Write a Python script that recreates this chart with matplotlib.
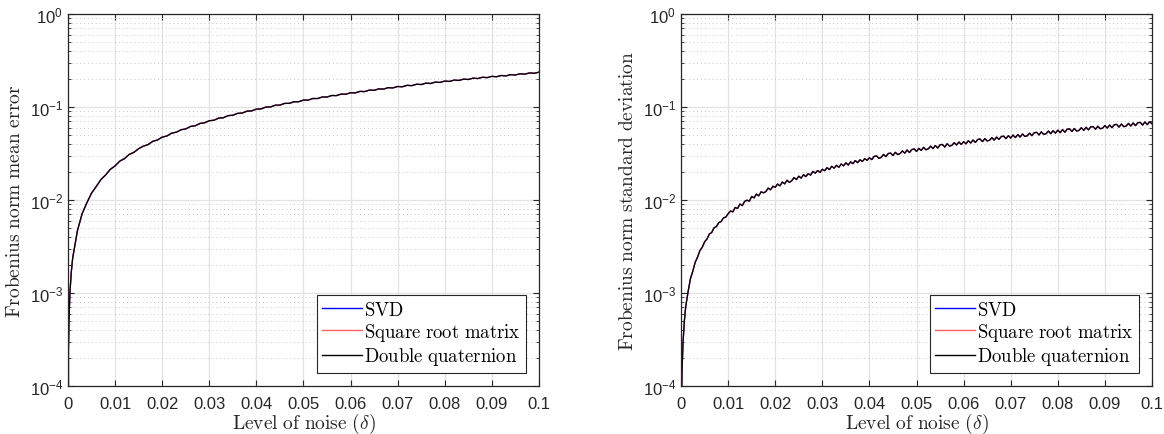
import numpy as np
import matplotlib
matplotlib.use('Agg')
import matplotlib.pyplot as plt
from matplotlib.ticker import FixedLocator, FuncFormatter, LogLocator, NullFormatter

# noise levels (a few extra samples close to zero)
delta_small = [0.0, 0.0001, 0.0002, 0.0004, 0.0007]
delta_mean = np.concatenate([delta_small, np.round(np.arange(1, 101) * 0.001, 4)])
delta_std = np.concatenate([delta_small, np.round(np.arange(2, 201) * 0.0005, 5)])

# Frobenius norm mean error (x1e-3)
mean_err = np.array([
    0.0, 0.24, 0.48, 0.98, 1.67,
    2.38, 4.66, 7.12, 9.31, 11.84, 13.97, 16.60, 18.62, 21.40, 23.28,
    26.20, 27.85, 30.90, 32.55, 35.60, 37.95, 39.40, 42.75, 44.20, 47.40,
    48.80, 52.30, 53.60, 56.90, 58.10, 61.80, 62.80, 66.50, 67.60, 71.20,
    72.10, 76.00, 76.70, 80.80, 81.50, 85.40, 86.10, 90.20, 90.80, 94.90,
    95.40, 99.80, 100.10, 104.50, 104.80, 109.30, 109.40, 114.00, 114.00, 118.70,
    118.60, 123.50, 123.30, 128.20, 127.90, 133.00, 132.60, 137.70, 137.20, 142.40,
    141.90, 147.20, 146.50, 152.00, 151.10, 156.70, 155.80, 161.50, 160.40, 166.20,
    165.10, 171.00, 169.70, 175.70, 174.40, 180.50, 179.00, 185.20, 183.70, 190.00,
    188.30, 194.70, 193.00, 199.40, 197.60, 204.20, 202.30, 208.90, 206.90, 213.70,
    211.50, 218.40, 216.20, 223.10, 220.90, 227.90, 225.50, 232.60, 230.20, 237.00,
]) * 1e-3

# Frobenius norm standard deviation (x1e-3)
std_err = np.array([
    0.0, 0.07, 0.14, 0.28, 0.50,
    0.72, 1.04, 1.43, 1.72, 2.14, 2.43, 2.86, 3.10, 3.55,
    3.80, 4.31, 4.47, 5.02, 5.18, 5.71, 5.86, 6.42, 6.55, 7.12,
    7.62, 7.45, 8.31, 8.12, 9.05, 8.71, 9.66, 9.95, 9.70, 10.92,
    10.55, 11.58, 11.10, 12.26, 11.95, 12.31, 13.42, 12.88, 14.05, 13.70,
    14.85, 14.20, 15.61, 14.92, 16.30, 15.48, 16.12, 17.45, 16.60, 18.02,
    17.20, 18.71, 17.86, 19.20, 18.52, 20.31, 19.44, 20.75, 19.83, 21.40,
    20.65, 22.30, 21.25, 23.05, 21.98, 23.60, 22.45, 24.40, 23.30, 25.10,
    23.82, 25.70, 24.60, 26.55, 25.20, 27.10, 25.95, 27.90, 26.70, 28.45,
    27.20, 29.40, 29.85, 28.10, 28.75, 30.90, 29.30, 31.60, 31.95, 30.05,
    32.55, 30.80, 31.60, 33.70, 31.90, 34.45, 32.40, 34.90, 35.40, 33.30,
    35.90, 34.10, 36.80, 34.70, 35.60, 37.90, 35.70, 38.50, 36.20, 39.20,
    39.60, 37.10, 40.30, 38.00, 38.70, 41.30, 39.10, 42.00, 39.60, 42.40,
    40.20, 43.40, 41.00, 44.10, 41.60, 44.80, 45.20, 42.50, 45.70, 43.20,
    43.90, 46.90, 44.10, 47.50, 44.80, 48.10, 48.60, 45.70, 49.20, 46.40,
    49.90, 46.90, 50.60, 47.60, 51.30, 48.20, 49.00, 52.30, 49.20, 53.00,
    53.40, 50.10, 54.00, 50.80, 51.60, 55.10, 51.70, 55.70, 52.40, 56.40,
    53.00, 57.10, 53.60, 57.80, 58.20, 54.50, 58.80, 55.20, 56.00, 59.90,
    56.10, 60.50, 56.80, 61.20, 61.60, 57.70, 62.20, 58.40, 59.20, 63.20,
    59.40, 63.90, 60.00, 64.60, 65.00, 60.90, 65.60, 61.50, 62.30, 66.60,
    62.50, 67.30, 63.10, 67.90, 68.30, 64.00, 69.00, 64.70, 69.60, 66.00,
]) * 1e-3

methods = ['SVD', 'Square root matrix', 'Double quaternion']
colors = ['#0000ff', '#ff6060', '#000000']
ylabels = ['Frobenius norm mean error', 'Frobenius norm standard deviation']
xlabel = r'$\mathrm{Level\ of\ noise}\ (\delta)$'

plt.rcParams['font.family'] = ['Liberation Sans', 'DejaVu Sans']
plt.rcParams['mathtext.fontset'] = 'custom'
plt.rcParams['mathtext.rm'] = 'Liberation Sans'
plt.rcParams['mathtext.it'] = 'Liberation Sans:italic'

axc = '#262626'
fig = plt.figure(figsize=(11.64, 4.35), dpi=100)
ax1 = fig.add_axes([0.0584, 0.1103, 0.4046, 0.8552])
ax2 = fig.add_axes([0.5851, 0.1103, 0.4046, 0.8552])

def mlabel(s):
    return r'$\mathrm{' + s.replace(' ', r'\ ') + '}$'

for ax, x, y, lab in [(ax1, delta_mean, mean_err, ylabels[0]),
                      (ax2, delta_std, std_err, ylabels[1])]:
    for m, c in zip(methods, colors):
        ax.plot(x, y, color=c, lw=0.9, label=mlabel(m))
    ax.set_yscale('log')
    ax.set_xlim(0, 0.1)
    ax.set_ylim(1e-4, 1)
    ax.xaxis.set_major_locator(FixedLocator(np.arange(0, 0.101, 0.01)))
    ax.xaxis.set_major_formatter(FuncFormatter(lambda v, p: '%g' % round(v, 3)))
    ax.yaxis.set_major_locator(LogLocator(base=10, numticks=10))
    ax.yaxis.set_minor_locator(LogLocator(base=10, subs=np.arange(2, 10), numticks=10))
    ax.yaxis.set_minor_formatter(NullFormatter())
    ax.yaxis.set_major_formatter(FuncFormatter(lambda v, p: r'$10^{%d}$' % round(np.log10(v))))
    ax.grid(True, which='major', color='#e3e3e3', lw=0.9, ls='-')
    ax.grid(True, which='minor', axis='y', color='#c8c8c8', lw=0.7, ls=(0, (1, 3)))
    ax.set_axisbelow(True)
    ax.tick_params(which='both', direction='in', top=True, right=True,
                   colors=axc, labelsize=12)
    ax.tick_params(axis='x', pad=7)
    ax.tick_params(which='major', length=4.5, width=0.8)
    ax.tick_params(which='minor', length=2.5, width=0.6)
    for s in ax.spines.values():
        s.set_color(axc)
        s.set_linewidth(0.9)
    xl = ax.set_xlabel(xlabel, fontsize=14, color='#262626', labelpad=0)
    xl.set_math_fontfamily('cm')
    yl = ax.set_ylabel(mlabel(lab), fontsize=14, color='#262626', labelpad=4)
    yl.set_math_fontfamily('cm')
    leg = ax.legend(loc='lower right', fontsize=13.5, handlelength=2.1,
                    handletextpad=0.1, borderaxespad=0.7, labelspacing=0.12,
                    borderpad=0.3, fancybox=False, framealpha=1,
                    edgecolor=axc)
    leg.get_frame().set_linewidth(0.8)
    for t in leg.get_texts():
        t.set_math_fontfamily('cm')
    for lh in leg.get_lines():
        lh.set_linewidth(1.0)

fig.savefig('out.png', dpi=100)
